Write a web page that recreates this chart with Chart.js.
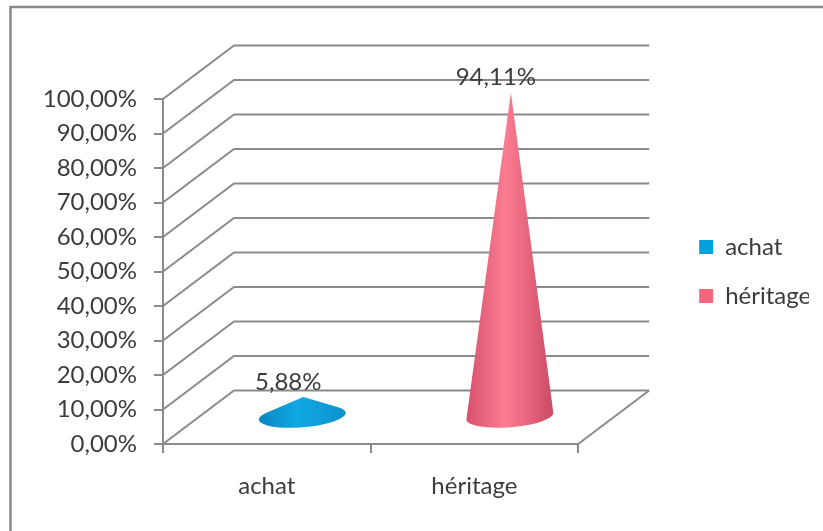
<!DOCTYPE html>
<html><head><meta charset="utf-8">
<style>html,body{margin:0;padding:0;background:#fff}canvas{display:block}</style>
<script src="https://cdn.jsdelivr.net/npm/chart.js@4/dist/chart.umd.min.js"></script>
</head><body>
<canvas id="c" width="823" height="531"></canvas>
<script>
const categories = ['achat', 'héritage'];
const achatValues = [5.88, null];
const heritageValues = [null, 94.11];
const achatLabel = '5,88%';
const heritageLabel = '94,11%';
const seriesColors = ['#00a0dc', '#f8667c'];
const gradientStops = [
  ['#0b86c0', '#10a8e4', '#0c92cc'],
  ['#d8506c', '#fb7d92', '#cc4a64']
];
const FONT = 'Lato, Carlito, sans-serif';
const TEXT = '#3c3c3c';
const LINE = '#8a8a8a';
const DX = 71, DY = 53.5;

const cone3d = {
  id: 'cone3d',
  beforeDraw(chart) {
    const { ctx, width, height, chartArea: a, scales: { y } } = chart;
    ctx.save();
    ctx.fillStyle = '#fff';
    ctx.fillRect(0, 0, width, height);
    ctx.strokeStyle = LINE;
    ctx.lineWidth = 2.5;
    ctx.beginPath();
    ctx.moveTo(10.5, height);
    ctx.lineTo(10.5, 7);
    ctx.lineTo(width, 7);
    ctx.stroke();
    // walls: every gridline runs from the value axis back and along the rear wall
    ctx.lineWidth = 2;
    y.ticks.forEach(t => {
      const py = y.getPixelForValue(t.value);
      ctx.beginPath();
      ctx.moveTo(a.left, py);
      ctx.lineTo(a.left + DX, py - DY);
      ctx.lineTo(a.right + DX, py - DY);
      ctx.stroke();
    });
    const py0 = y.getPixelForValue(0);
    ctx.beginPath();
    ctx.moveTo(a.right, py0);
    ctx.lineTo(a.right + DX, py0 - DY);
    ctx.stroke();
    ctx.restore();
  },
  beforeDatasetDraw(chart, args) {
    const { ctx } = chart;
    const labels = [achatLabel, heritageLabel];
    const meta = chart.getDatasetMeta(args.index);
    const values = chart.data.datasets[args.index].data;
    meta.data.forEach((el, i) => {
      if (values[i] == null) return;
      const cx = el.x + DX / 2;
      const base = el.base - DY / 2;
      const ax = cx + 1;
      const ay = el.y - DY / 2;
      const rx = el.width / 2, ry = 11, rot = -0.08;
      // tangents from apex to the tilted base ellipse
      const vx = ax - cx, vy = ay - base;
      const ux = (vx * Math.cos(rot) + vy * Math.sin(rot)) / rx;
      const uy = (-vx * Math.sin(rot) + vy * Math.cos(rot)) / ry;
      const ang = Math.atan2(uy, ux), del = Math.acos(1 / Math.hypot(ux, uy));
      const g = ctx.createLinearGradient(cx - rx, 0, cx + rx, 0);
      const s = gradientStops[args.index];
      g.addColorStop(0, s[0]); g.addColorStop(0.45, s[1]); g.addColorStop(1, s[2]);
      ctx.save();
      ctx.fillStyle = g;
      ctx.beginPath();
      ctx.ellipse(cx, base, rx, ry, rot, ang + del, ang - del + Math.PI * 2, false);
      ctx.lineTo(ax, ay);
      ctx.closePath();
      ctx.fill();
      ctx.fillStyle = TEXT;
      ctx.font = '24px ' + FONT;
      ctx.textAlign = 'center';
      ctx.textBaseline = 'middle';
      ctx.fillText(labels[args.index], ax - 15, ay - 15);
      ctx.restore();
    });
    return false;
  }
};

new Chart(document.getElementById('c'), {
  type: 'bar',
  data: {
    labels: categories,
    datasets: [
      { label: 'achat', data: achatValues, backgroundColor: seriesColors[0], borderWidth: 0 },
      { label: 'héritage', data: heritageValues, backgroundColor: seriesColors[1], borderWidth: 0 }
    ]
  },
  options: {
    responsive: false,
    animation: false,
    devicePixelRatio: 1,
    barPercentage: 0.42,
    categoryPercentage: 1,
    layout: { padding: { top: 99, right: 14, bottom: 0, left: 0 } },
    plugins: {
      tooltip: { enabled: false },
      legend: {
        position: 'right',
        fullSize: false,
        labels: {
          boxWidth: 14, boxHeight: 14, padding: 25,
          color: TEXT, font: { family: FONT, size: 24 }
        }
      }
    },
    scales: {
      x: {
        stacked: true,
        grid: { offset: true, drawOnChartArea: false, drawTicks: true, tickLength: 9, color: LINE, lineWidth: 2 },
        border: { color: LINE, width: 2 },
        ticks: { color: TEXT, font: { family: FONT, size: 24 }, padding: 19, maxRotation: 0 },
        afterFit: s => { s.height = 87; }
      },
      y: {
        stacked: true,
        min: 0, max: 100,
        grid: { drawOnChartArea: false, drawTicks: true, tickLength: 9, color: LINE, lineWidth: 2 },
        border: { color: LINE, width: 2 },
        ticks: {
          stepSize: 10, color: TEXT, font: { family: FONT, size: 24 }, padding: 17,
          callback: v => v.toFixed(2).replace('.', ',') + '%'
        },
        afterFit: s => { s.width = 163; }
      },
      spacer: {
        type: 'linear', position: 'right', display: true,
        grid: { display: false }, border: { display: false }, ticks: { display: false },
        afterFit: s => { s.width = 96; }
      }
    }
  },
  plugins: [cone3d]
});
</script>
</body></html>
